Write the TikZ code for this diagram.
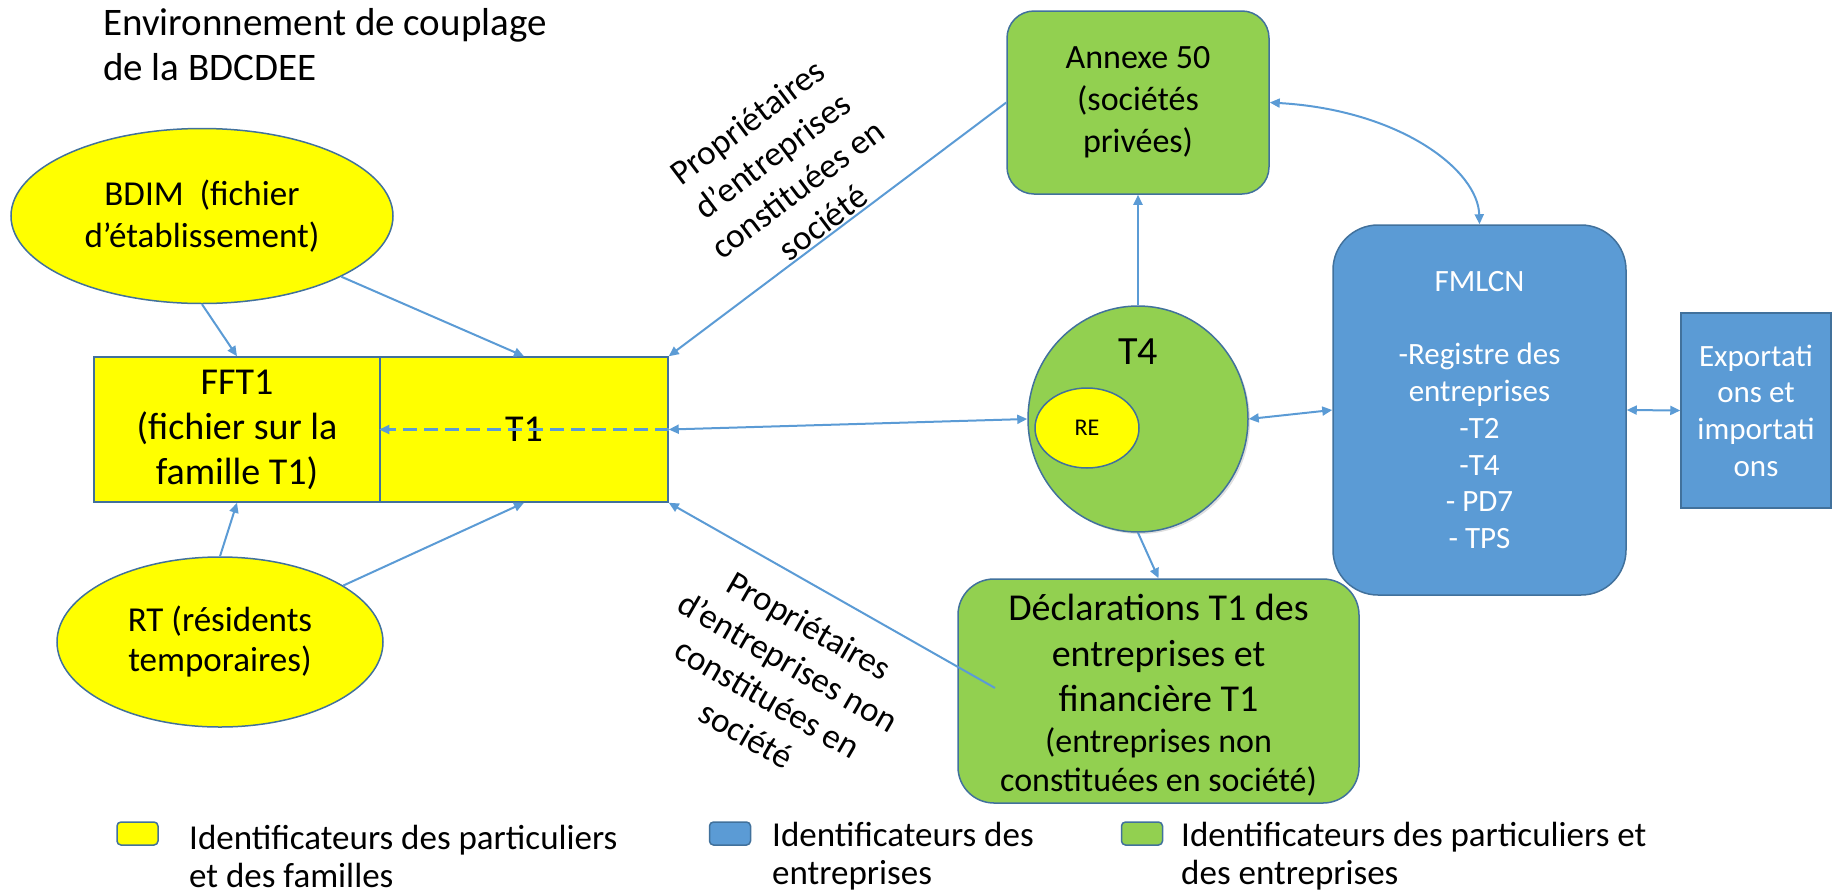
\documentclass[tikz,border=0pt]{standalone}
\usepackage{fontspec}
\setmainfont{Carlito}
\usetikzlibrary{arrows.meta,shapes.geometric,shadows}
\definecolor{lineblue}{HTML}{5B9BD5}
\definecolor{edgeblue}{HTML}{41719C}
\definecolor{pgreen}{HTML}{92D050}
\definecolor{pyellow}{HTML}{FFFF00}
\definecolor{pblue}{HTML}{5B9BD5}
\newcommand\setfs[2]{\fontsize{#1}{#2}\selectfont}
\begin{document}
\begin{tikzpicture}[x=1pt,y=-1pt,
  arr/.style={draw=lineblue,line width=2pt,-{Triangle[length=10pt,width=9pt]}},
  darr/.style={draw=lineblue,line width=2pt,{Triangle[length=10pt,width=9pt]}-{Triangle[length=10pt,width=9pt]}},
  dasharr/.style={draw=lineblue,line width=2.2pt,dash pattern=on 14pt off 7pt,-{Triangle[length=10pt,width=9pt]}},
  yell/.style={draw=edgeblue,line width=1.5pt,fill=pyellow,inner sep=0pt,align=center},
  grn/.style={draw=edgeblue,line width=1.5pt,fill=pgreen,inner sep=0pt,align=center},
  blu/.style={draw=edgeblue,line width=1.5pt,fill=pblue,inner sep=0pt,align=center,text=white},
  txt/.style={inner sep=0pt,align=center},
  legbox/.style={draw=edgeblue,line width=1.5pt,rounded corners=4pt,minimum width=41pt,minimum height=23pt,inner sep=0pt},
  legtxt/.style={inner sep=0pt,align=left,anchor=west,font=\setfs{35}{38}}
]
\useasboundingbox (0,0) rectangle (1834,892);

% title
\node[txt,anchor=west,align=left,font=\setfs{39}{45}] (title) at (103,45) {Environnement de couplage\\de la BDCDEE};

% yellow individuals
\node[yell,ellipse,minimum width=382pt,minimum height=175pt,font=\setfs{35}{42}] (bdim) at (202,216) {BDIM\ \ (fichier\\d’établissement)};
\node[yell,rectangle,minimum width=286pt,minimum height=145pt,font=\setfs{38}{45}] (fft1) at (237,429.5) {FFT1\\(fichier sur la\\famille T1)};
\node[yell,rectangle,minimum width=288pt,minimum height=145pt,font=\setfs{38}{45}] (t1) at (524,429.5) {T1};
\node[yell,ellipse,minimum width=326pt,minimum height=170pt,font=\setfs{35}{40}] (rt) at (220,642) {RT (résidents\\temporaires)};

% green
\node[grn,rectangle,rounded corners=27pt,minimum width=262pt,minimum height=183pt,font=\setfs{34}{42}] (annexe) at (1138,102.5) {Annexe 50\\(sociétés\\privées)};
\node[grn,ellipse,minimum width=220pt,minimum height=226pt,drop shadow={shadow xshift=2pt,shadow yshift=-2pt,opacity=0.25}] (t4) at (1138,419) {};
\node[txt,font=\setfs{40}{45}] (t4lab) at (1138,352) {T4};
\node[yell,ellipse,minimum width=104pt,minimum height=80pt,font=\setfs{24}{28}] (re) at (1087,428) {RE};
\node[grn,rectangle,rounded corners=36pt,minimum width=401pt,minimum height=224pt] (decl) at (1158.5,691) {};
\node[txt,font=\setfs{38}{45.5}] (declA) at (1158.5,653) {Déclarations T1 des\\entreprises et\\financière T1};
\node[txt,font=\setfs{34}{39}] (declB) at (1158.5,762) {(entreprises non\\constituées en société)};

% blue
\node[blu,rectangle,rounded corners=45pt,minimum width=293pt,minimum height=370pt,font=\setfs{31}{36.7}] (fmlcn) at (1479.5,410) {FMLCN\\\mbox{}\\-Registre des\\entreprises\\-T2\\-T4\\- PD7\\- TPS};
\node[blu,rectangle,minimum width=150pt,minimum height=195pt,font=\setfs{31}{36.7}] (export) at (1756,410.5) {Exportati\\ons et\\importati\\ons};

% rotated labels
\node[txt,rotate=37,font=\setfs{35}{42}] (lab1) at (785,172) {Propriétaires\\d’entreprises\\constituées en\\société};
\node[txt,rotate=-30,font=\setfs{35}{42}] (lab2) at (778,680) {Propriétaires\\d’entreprises non\\constituées en\\société};

% connectors
\coordinate (declin) at (995,688);
\draw[arr] (bdim.south) -- (fft1.north);
\draw[arr] (bdim) -- (t1.north);
\draw[arr] (rt.north) -- (fft1.south);
\draw[arr] (rt) -- (t1.south);
\draw[arr] (annexe.west) -- (t1.north east);
\draw[arr] (declin) -- (t1.south east);
\draw[dasharr] (t1.east) -- (t1.west);
\draw[darr] (t1.east) -- (t4.west);
\draw[arr] (t4.north) -- (annexe.south);
\draw[arr] (t4.south) -- (decl.north);
\draw[darr] (t4.east) -- (fmlcn.west);
\draw[darr] (annexe.east) .. controls (1400,110) and (1478,170) .. (fmlcn.north);
\draw[darr] (fmlcn.east) -- (export.west);

% legend
\node[legbox,fill=pyellow] (leg1) at (137.5,833.5) {};
\node[legtxt] (leg1t) at (189,856) {Identificateurs des particuliers\\et des familles};
\node[legbox,fill=pblue] (leg2) at (730,833.5) {};
\node[legtxt] (leg2t) at (772,856) {Identificateurs des\\entreprises};
\node[legbox,fill=pgreen] (leg3) at (1142,833.5) {};
\node[legtxt] (leg3t) at (1181,856) {Identificateurs des particuliers et\\des entreprises};
\end{tikzpicture}
\end{document}
